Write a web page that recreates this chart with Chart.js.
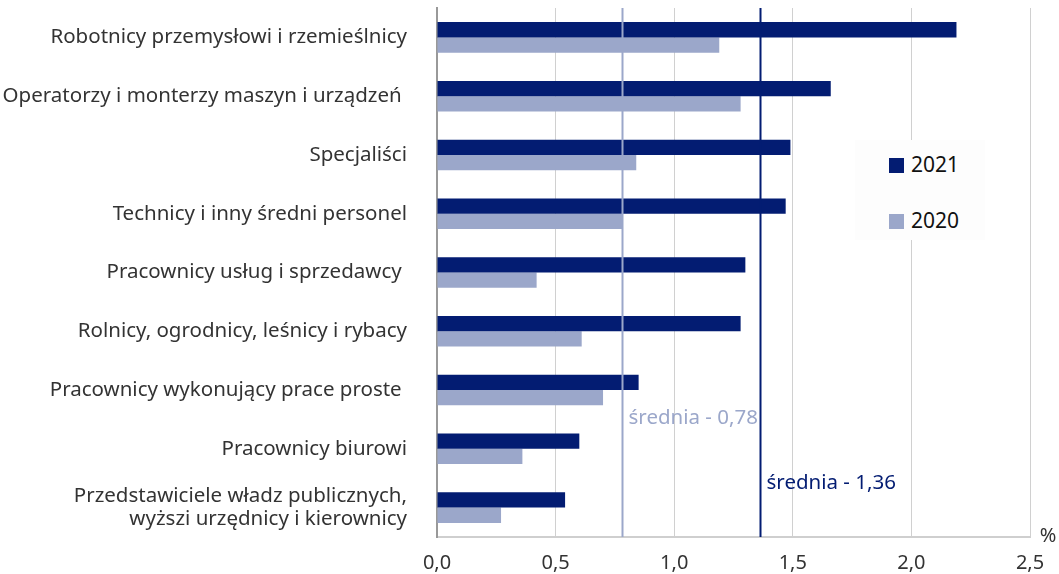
<!DOCTYPE html>
<html>
<head>
<meta charset="utf-8">
<script src="https://cdn.jsdelivr.net/npm/chart.js@4"></script>
<style>
  html, body { margin: 0; padding: 0; background: #fff; }
  #wrap { position: relative; width: 1059px; height: 574px; }
  #legend {
    position: absolute; left: 855px; top: 140px; width: 130px; height: 100px;
    background: #fdfdfd; font-family: "Noto Sans", sans-serif; font-size: 21px; color: #111;
  }
  #legend div { position: absolute; left: 34px; height: 22px; line-height: 22px; }
  #legend span { display: inline-block; width: 15px; height: 15px; margin-right: 7px; vertical-align: -1px; }
</style>
</head>
<body>
<div id="wrap">
  <canvas id="chart" width="1059" height="574"></canvas>
  <div id="legend"></div>
</div>
<script>
const categories = [
  "Robotnicy przemysłowi i rzemieślnicy",
  "Operatorzy i monterzy maszyn i urządzeń ",
  "Specjaliści",
  "Technicy i inny średni personel",
  "Pracownicy usług i sprzedawcy ",
  "Rolnicy, ogrodnicy, leśnicy i rybacy",
  "Pracownicy wykonujący prace proste ",
  "Pracownicy biurowi",
  ["Przedstawiciele władz publicznych,", "wyższi urzędnicy i kierownicy"],
];
const seriesNames = ["2021", "2020"];
const values2021 = [2.19, 1.66, 1.49, 1.47, 1.30, 1.28, 0.85, 0.60, 0.54];
const values2020 = [1.19, 1.28, 0.84, 0.78, 0.42, 0.61, 0.70, 0.36, 0.27];
const meanValues = [0.78, 1.36];
const meanLabels = ["średnia - 0,78", "średnia - 1,36"];
const xTicks = [0, 0.5, 1, 1.5, 2, 2.5];

const navy = "#031c72";
const light = "#9ba7ca";
const font = "Noto Sans";

// mean lines with their labels, plus the "%" unit at the end of the x axis
const extras = {
  id: "extras",
  afterDatasetsDraw(chart) {
    const { ctx, chartArea, scales } = chart;
    const colors = [light, navy];
    const labelY = [418, 483];
    ctx.save();
    meanValues.forEach((v, i) => {
      const x = Math.round(scales.x.getPixelForValue(v)) + 0.5;
      ctx.strokeStyle = colors[i];
      ctx.lineWidth = 2;
      ctx.beginPath();
      ctx.moveTo(x, chartArea.top);
      ctx.lineTo(x, chartArea.bottom);
      ctx.stroke();
      ctx.fillStyle = colors[i];
      ctx.font = "20.5px '" + font + "'";
      ctx.textAlign = "left";
      ctx.textBaseline = "middle";
      ctx.fillText(meanLabels[i], x + 6, labelY[i]);
    });
    ctx.fillStyle = "#333";
    ctx.font = "20px '" + font + "'";
    ctx.textAlign = "center";
    ctx.textBaseline = "middle";
    ctx.fillText("%", chartArea.right + 18, chartArea.bottom - 1);
    ctx.restore();
  },
};

const noPad = (s) => { s.paddingTop = 0; s.paddingBottom = 0; s.paddingLeft = 0; s.paddingRight = 0; };

const chart = new Chart(document.getElementById("chart"), {
  type: "bar",
  data: {
    labels: categories,
    datasets: [
      { label: seriesNames[0], data: values2021, backgroundColor: navy },
      { label: seriesNames[1], data: values2020, backgroundColor: light },
    ],
  },
  options: {
    indexAxis: "y",
    responsive: false,
    animation: false,
    layout: { padding: { top: 8, right: 29, left: 0, bottom: 0 } },
    datasets: { bar: { barPercentage: 1, categoryPercentage: 0.52 } },
    plugins: { legend: { display: false }, tooltip: { enabled: false } },
    scales: {
      x: {
        min: 0,
        max: 2.5,
        afterBuildTicks: (s) => { s.ticks = xTicks.map((v) => ({ value: v })); },
        grid: { color: "#d0d0d0", drawTicks: false },
        border: { color: "#cfcfcf", width: 2 },
        ticks: {
          padding: 14,
          color: "#333",
          font: { family: font, size: 20 },
          callback: (v) => Number(v).toFixed(1).replace(".", ","),
        },
        afterFit: (s) => { s.height = 37; noPad(s); },
      },
      y: {
        grid: { display: false, drawTicks: false },
        border: { color: "#999", width: 2 },
        ticks: { padding: 30, color: "#333", font: { family: font, size: 20.5, lineHeight: 1.12 } },
        afterFit: (s) => { s.width = 437; noPad(s); },
      },
    },
  },
  plugins: [extras],
});

const legend = document.getElementById("legend");
[navy, light].forEach((c, i) => {
  const row = document.createElement("div");
  row.style.top = (i === 0 ? 13 : 69) + "px";
  row.innerHTML = '<span style="background:' + c + '"></span>' + seriesNames[i];
  legend.appendChild(row);
});
</script>
</body>
</html>
